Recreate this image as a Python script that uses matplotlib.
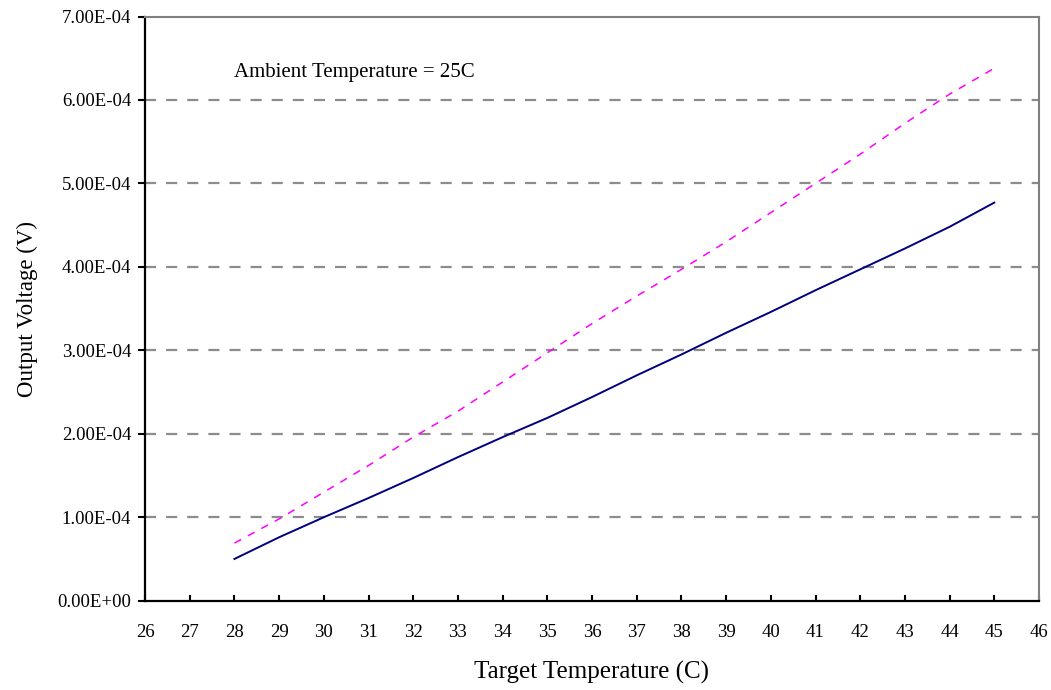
import matplotlib
matplotlib.use("Agg")
import matplotlib.pyplot as plt
from matplotlib.ticker import FuncFormatter

target_temp = [28, 29, 30, 31, 32, 33, 34, 35, 36, 37, 38, 39, 40, 41, 42, 43, 44, 45]
voltage_solid = [0.50e-4, 0.76e-4, 1.00e-4, 1.23e-4, 1.47e-4, 1.72e-4, 1.96e-4, 2.19e-4, 2.44e-4,
                 2.70e-4, 2.95e-4, 3.21e-4, 3.46e-4, 3.72e-4, 3.97e-4, 4.22e-4, 4.48e-4, 4.77e-4]
voltage_dashed = [0.69e-4, 0.98e-4, 1.30e-4, 1.62e-4, 1.96e-4, 2.27e-4, 2.62e-4, 2.97e-4, 3.32e-4,
                  3.65e-4, 3.97e-4, 4.30e-4, 4.65e-4, 5.00e-4, 5.35e-4, 5.72e-4, 6.07e-4, 6.38e-4]
x_ticks = list(range(26, 47))
y_ticks = [0, 1e-4, 2e-4, 3e-4, 4e-4, 5e-4, 6e-4, 7e-4]

plt.rcParams['font.family'] = ['Liberation Serif', 'DejaVu Serif']

fig = plt.figure(figsize=(10.51, 6.90), dpi=100)
ax = fig.add_axes([145/1051, 1 - 600.7/690, (1039-145)/1051, (600.7-16.5)/690])

for y in y_ticks[1:-1]:
    ax.axhline(y, color='#8c8c8c', lw=1.6, ls=(0, (5, 4.5)), zorder=1)

ax.plot(target_temp, voltage_dashed, color='#ff00ff', lw=1.1, ls=(0, (5, 5)), zorder=3)
ax.plot(target_temp, voltage_solid, color='#000080', lw=1.4, zorder=3)

ax.set_xlim(26, 46)
ax.set_ylim(0, 7e-4)
ax.set_xticks(x_ticks)
ax.set_yticks(y_ticks)
ax.yaxis.set_major_formatter(FuncFormatter(lambda v, p: "%.2E" % v))
ax.tick_params(axis='x', direction='in', length=4, width=1.5, labelsize=13.5, pad=17)
ax.tick_params(axis='y', direction='out', length=5, width=1.5, labelsize=13.5, pad=5)

for s in ['left', 'bottom']:
    ax.spines[s].set_color('black')
    ax.spines[s].set_linewidth(1.6)
for s in ['top', 'right']:
    ax.spines[s].set_color('#808080')
    ax.spines[s].set_linewidth(1.5)

ax.set_xlabel('Target Temperature (C)', fontsize=18, labelpad=14)
ax.set_ylabel('Output Voltage (V)', fontsize=16.5, labelpad=14)
ax.text(28.0, 6.33e-4, 'Ambient Temperature = 25C', fontsize=15, va='center', ha='left')

fig.savefig('out.png', dpi=100, facecolor='white')
